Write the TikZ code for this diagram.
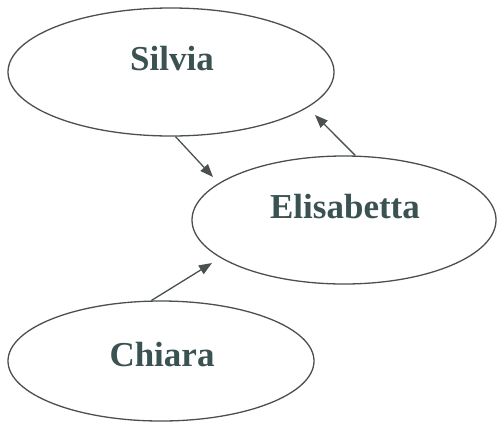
\documentclass[tikz,border=0pt]{standalone}
\usepackage{fontspec}
\setmainfont{Liberation Serif}
\usetikzlibrary{shapes.geometric,arrows.meta}
\definecolor{inkline}{HTML}{4A5050}
\definecolor{inktext}{HTML}{3B5252}
\begin{document}
\begin{tikzpicture}[x=1pt,y=-1pt,
  person/.style={ellipse,draw=inkline,line width=1.3pt,inner sep=0pt},
  personlabel/.style={font=\fontsize{35}{40}\selectfont\bfseries,text=inktext,inner sep=0pt},
  link/.style={draw=inkline,line width=1.3pt,-{Triangle[length=13pt,width=10pt]}}]
  \useasboundingbox (0,0) rectangle (497,432);
  % the three people
  \node[person,minimum width=326pt,minimum height=128pt] (s) at (171,72) {};
  \node[person,minimum width=304pt,minimum height=128pt] (e) at (344,220) {};
  \node[person,minimum width=306pt,minimum height=120pt] (c) at (161,361) {};
  \node[personlabel] (st) at (172,59) {Silvia};
  \node[personlabel] (et) at (345,207) {Elisabetta};
  \node[personlabel] (ct) at (162,355) {Chiara};
  % arrow tips stop short of the ellipses
  \coordinate (se) at (213,177);
  \coordinate (es) at (315,115);
  \coordinate (ce) at (212,263);
  \draw[link] (s.-86) -- (se);
  \draw[link] (e.80) -- (es);
  \draw[link] (c.99) -- (ce);
\end{tikzpicture}
\end{document}
